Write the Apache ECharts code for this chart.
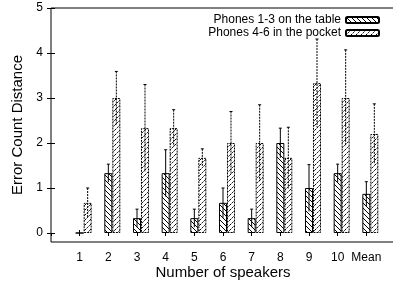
<!DOCTYPE html>
<html>
<head>
<meta charset="utf-8">
<script src="https://cdn.jsdelivr.net/npm/echarts@6/dist/echarts.min.js"></script>
<style>
  html, body { margin: 0; padding: 0; background: #fff; }
  #chart { width: 393px; height: 281px; }
</style>
</head>
<body>
<div id="chart"></div>
<script>
var categories = ['1', '2', '3', '4', '5', '6', '7', '8', '9', '10', 'Mean'];
var tableVals = [0, 1.33, 0.33, 1.33, 0.33, 0.67, 0.33, 2.0, 1.0, 1.33, 0.87];
var tableErr = [0, 0.2, 0.2, 0.52, 0.2, 0.33, 0.2, 0.33, 0.52, 0.2, 0.27];
var pocketVals = [0.67, 3.0, 2.33, 2.33, 1.67, 2.0, 2.0, 1.67, 3.33, 3.0, 2.2];
var pocketErr = [0.33, 0.59, 0.97, 0.41, 0.2, 0.7, 0.85, 0.68, 0.98, 1.07, 0.67];
var yTicks = [0, 1, 2, 3, 4, 5];

var font = 'Liberation Sans, Arial, sans-serif';
var barW = 8;
var pocketShift = 0.279; // one bar width, in axis units

function hatch(dir, dashed) {
    var c = document.createElement('canvas');
    c.width = 5; c.height = 5;
    var g = c.getContext('2d');
    g.fillStyle = '#fff';
    g.fillRect(0, 0, 5, 5);
    g.strokeStyle = '#000';
    g.lineWidth = 1;
    if (dashed) g.setLineDash([2, 1]);
    for (var k = -1; k <= 1; k++) {
        g.beginPath();
        if (dir > 0) {
            g.moveTo(k * 5, 0); g.lineTo(k * 5 + 5, 5);
        } else {
            g.moveTo(k * 5, 5); g.lineTo(k * 5 + 5, 0);
        }
        g.stroke();
    }
    return { image: c, repeat: 'repeat' };
}

function errData(vals, errs, shift) {
    return vals.map(function (v, i) { return [i + 1 + shift, v, errs[i]]; });
}

function errBars(dashed) {
    return function (params, api) {
        var x = api.value(0), v = api.value(1), e = api.value(2);
        if (!e) return null;
        var top = api.coord([x, v + e]);
        var bot = api.coord([x, v - e]);
        var style = { stroke: '#000', lineWidth: 1, lineDash: dashed ? [2, 1] : null };
        return {
            type: 'group',
            children: [
                { type: 'line', shape: { x1: top[0], y1: top[1], x2: bot[0], y2: bot[1] }, style: style },
                { type: 'line', shape: { x1: top[0] - 1.5, y1: top[1], x2: top[0] + 1.5, y2: top[1] }, style: { stroke: '#000', lineWidth: 1 } }
            ]
        };
    };
}

var myChart = echarts.init(document.getElementById('chart'));

var option = {
    animation: false,
    backgroundColor: '#fff',
    textStyle: { fontFamily: font },
    grid: {
        left: 51, right: -2, top: 8, bottom: 39,
        outerBoundsMode: 'none',
        containLabel: false,
        show: true, borderColor: '#000', borderWidth: 1
    },
    legend: {
        orient: 'vertical',
        right: 8,
        top: 9,
        align: 'right',
        itemWidth: 33,
        itemHeight: 6,
        itemGap: 1,
        textStyle: { fontSize: 12, color: '#000', fontFamily: font },
        data: ['Phones 1-3 on the table', 'Phones 4-6 in the pocket']
    },
    xAxis: [{
        type: 'value',
        min: 0, max: 12, interval: 1,
        name: 'Number of speakers',
        nameLocation: 'middle',
        nameGap: 23,
        nameMoveOverlap: false,
        nameTextStyle: { fontSize: 15, color: '#000', fontFamily: font, verticalAlign: 'top' },
        axisLine: { show: false },
        axisTick: { show: true, inside: true, length: 3, lineStyle: { color: '#000' } },
        splitLine: { show: false },
        axisLabel: {
            margin: 10, fontSize: 12, color: '#000', fontFamily: font,
            showMinLabel: false, showMaxLabel: false,
            formatter: function (v) { return categories[v - 1] || ''; }
        }
    }, {
        type: 'value',
        position: 'top',
        min: 0, max: 12, interval: 1,
        axisLine: { show: false },
        axisTick: { show: true, inside: true, length: 3, lineStyle: { color: '#000' } },
        splitLine: { show: false },
        axisLabel: { show: false }
    }],
    yAxis: [{
        type: 'value',
        min: -0.2, max: 5,
        name: 'Error Count Distance',
        nameLocation: 'middle',
        nameGap: 26,
        nameTextStyle: { fontSize: 15, color: '#000', fontFamily: font },
        axisLine: { show: false },
        axisTick: { show: true, inside: true, length: 4, customValues: yTicks, lineStyle: { color: '#000' } },
        splitLine: { show: false },
        axisLabel: { margin: 8, fontSize: 12, color: '#000', fontFamily: font, customValues: yTicks }
    }, {
        type: 'value',
        position: 'right',
        min: -0.2, max: 5,
        axisLine: { show: false },
        axisTick: { show: true, inside: true, length: 4, customValues: yTicks, lineStyle: { color: '#000' } },
        splitLine: { show: false },
        axisLabel: { show: false, customValues: yTicks }
    }],
    series: [{
        name: 'Phones 1-3 on the table',
        type: 'bar',
        barWidth: barW,
        barGap: '-100%',
        itemStyle: { color: hatch(1, false), borderColor: '#000', borderWidth: 1 },
        data: tableVals.map(function (v, i) { return [i + 1, v]; })
    }, {
        name: 'Phones 4-6 in the pocket',
        type: 'bar',
        barWidth: barW,
        barGap: '-100%',
        itemStyle: { color: hatch(-1, true), borderColor: '#000', borderWidth: 1, borderType: [2, 1] },
        data: pocketVals.map(function (v, i) { return [i + 1 + pocketShift, v]; })
    }, {
        type: 'custom',
        renderItem: errBars(false),
        z: 5,
        data: errData(tableVals, tableErr, 0)
    }, {
        type: 'custom',
        renderItem: errBars(true),
        z: 5,
        data: errData(pocketVals, pocketErr, pocketShift)
    }]
};

myChart.setOption(option);

window.onresize = function () {
    myChart.resize();
};
</script>
</body>
</html>
